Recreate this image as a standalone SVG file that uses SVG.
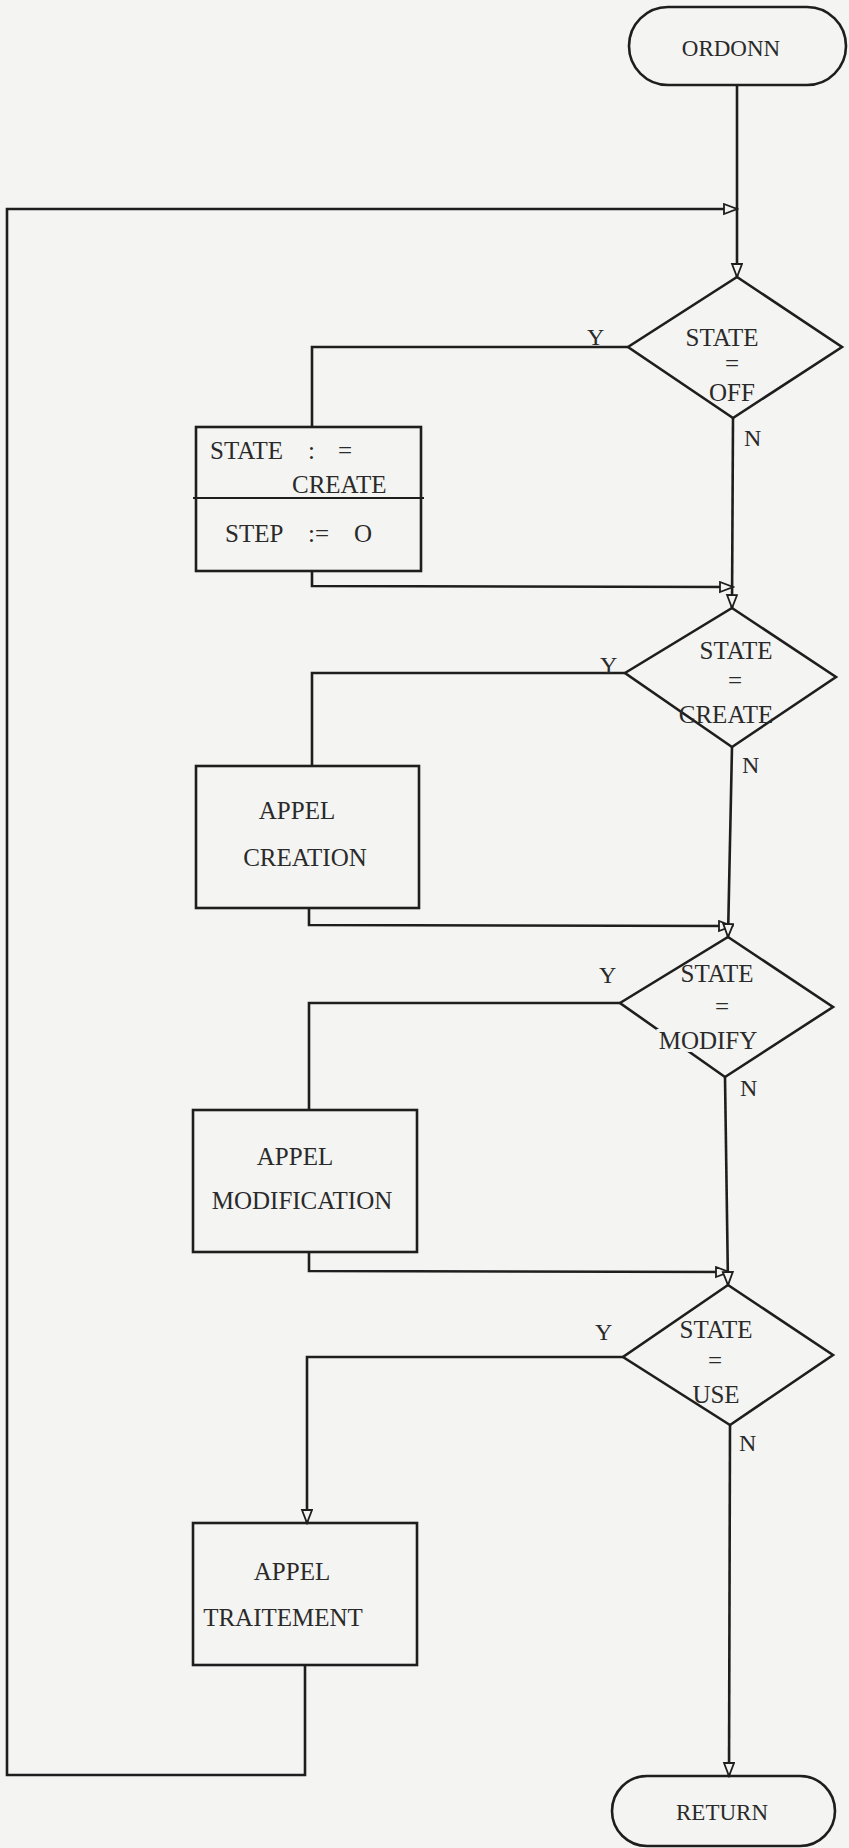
<svg xmlns="http://www.w3.org/2000/svg" width="849" height="1848" viewBox="0 0 849 1848">
<style>
.bg{fill:#f4f4f2}
.shape{fill:none;stroke:#1e1e1e;stroke-width:2.6}
.conn{fill:none;stroke:#1e1e1e;stroke-width:2.6}
.thin{stroke-width:1.8}
text{font-family:"Liberation Serif","Times New Roman",serif;font-size:25px;fill:#2a2a2a}
.mid{text-anchor:middle}
.lbl{font-size:24px}
.term{font-size:23px}
.knock{stroke:#f4f4f2;stroke-width:6;paint-order:stroke}
</style>
<defs>
<marker id="arr" markerWidth="16" markerHeight="14" refX="14" refY="6" orient="auto" markerUnits="userSpaceOnUse">
<path d="M1,1 L14,6 L1,11 Z" fill="#f4f4f2" stroke="#1e1e1e" stroke-width="1.8"/>
</marker>
</defs>
<rect class="bg" x="0" y="0" width="849" height="1848"/>
<g id="connectors">
<path class="conn" d="M737,85 L737,277" marker-end="url(#arr)"/>
<path class="conn" d="M305,1665 L305,1775 L7,1775 L7,209 L737,209" marker-end="url(#arr)"/>
<path class="conn" d="M628,347 L312,347 L312,427"/>
<path class="conn" d="M312,571 L312,586 L733,587" marker-end="url(#arr)"/>
<path class="conn" d="M733,418 L732,608" marker-end="url(#arr)"/>
<path class="conn" d="M625,673 L312,673 L312,766"/>
<path class="conn" d="M309,908 L309,925 L732,926" marker-end="url(#arr)"/>
<path class="conn" d="M732,747 L728,937" marker-end="url(#arr)"/>
<path class="conn" d="M620,1003 L309,1003 L309,1110"/>
<path class="conn" d="M309,1252 L309,1271 L729,1272" marker-end="url(#arr)"/>
<path class="conn" d="M725,1077 L728,1285" marker-end="url(#arr)"/>
<path class="conn" d="M623,1357 L307,1357 L307,1523" marker-end="url(#arr)"/>
<path class="conn" d="M730,1425 L729,1776" marker-end="url(#arr)"/>
</g>
<g id="start">
<rect class="shape" x="629" y="7" width="217" height="78" rx="39" ry="39"/>
<text class="mid term" x="731" y="56">ORDONN</text>
</g>
<g id="dec-off">
<polygon class="shape" points="737,277 842,347 733,418 628,347"/>
<text class="mid" x="722" y="346">STATE</text>
<text class="mid" x="732" y="372">=</text>
<text class="mid" x="732" y="401">OFF</text>
<text class="lbl" x="587" y="345">Y</text>
<text class="lbl" x="744" y="446">N</text>
</g>
<g id="box-init">
<rect class="shape" x="196" y="427" width="225" height="144"/>
<line class="shape thin" x1="193" y1="498" x2="424" y2="498"/>
<text x="210" y="459">STATE<tspan x="308">:</tspan><tspan x="338">=</tspan></text>
<text x="292" y="493">CREATE</text>
<text x="225" y="542">STEP<tspan x="308">:=</tspan><tspan x="354">O</tspan></text>
</g>
<g id="dec-create">
<polygon class="shape" points="732,608 836,677 732,747 625,673"/>
<text class="mid" x="736" y="659">STATE</text>
<text class="mid" x="735" y="689">=</text>
<text class="mid" x="726" y="723">CREATE</text>
<text class="lbl" x="600" y="673">Y</text>
<text class="lbl" x="742" y="773">N</text>
</g>
<g id="box-creation">
<rect class="shape" x="196" y="766" width="223" height="142"/>
<text class="mid" x="297" y="819">APPEL</text>
<text class="mid" x="305" y="866">CREATION</text>
</g>
<g id="dec-modify">
<polygon class="shape" points="728,937 833,1007 725,1077 620,1003"/>
<text class="mid" x="717" y="982">STATE</text>
<text class="mid" x="722" y="1015">=</text>
<text class="mid knock" x="708" y="1049">MODIFY</text>
<text class="lbl" x="599" y="983">Y</text>
<text class="lbl" x="740" y="1096">N</text>
</g>
<g id="box-modification">
<rect class="shape" x="193" y="1110" width="224" height="142"/>
<text class="mid" x="295" y="1165">APPEL</text>
<text class="mid" x="302" y="1209">MODIFICATION</text>
</g>
<g id="dec-use">
<polygon class="shape" points="728,1285 833,1355 730,1425 623,1357"/>
<text class="mid" x="716" y="1338">STATE</text>
<text class="mid" x="715" y="1369">=</text>
<text class="mid" x="716" y="1403">USE</text>
<text class="lbl" x="595" y="1340">Y</text>
<text class="lbl" x="739" y="1451">N</text>
</g>
<g id="box-traitement">
<rect class="shape" x="193" y="1523" width="224" height="142"/>
<text class="mid" x="292" y="1580">APPEL</text>
<text class="mid" x="283" y="1626">TRAITEMENT</text>
</g>
<g id="end">
<rect class="shape" x="612" y="1776" width="223" height="70" rx="35" ry="35"/>
<text class="mid term" x="722" y="1820">RETURN</text>
</g>
</svg>
